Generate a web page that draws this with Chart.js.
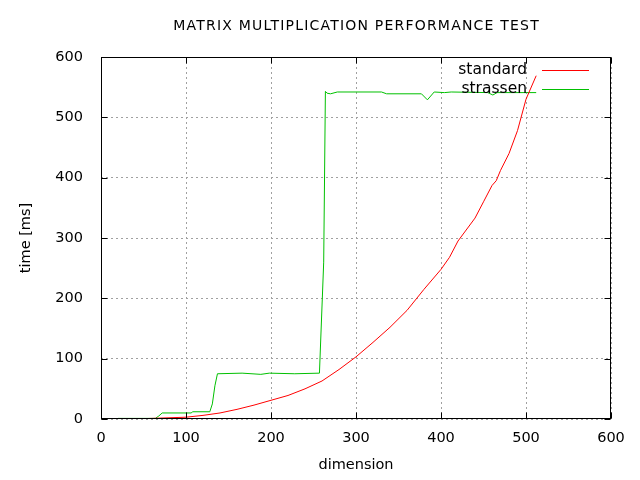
<!DOCTYPE html>
<html>
<head>
<meta charset="utf-8">
<script src="https://cdn.jsdelivr.net/npm/chart.js@4"></script>
<style>
  html, body { margin: 0; padding: 0; background: #fff; }
</style>
</head>
<body>
<canvas id="chart" width="640" height="480"></canvas>
<script>
// values
const stdDims = [20, 40, 60, 80, 100, 120, 140, 160, 180, 200, 220, 240, 260, 280, 300, 320, 340, 360, 380, 400, 410, 420, 440, 450, 460, 465, 470, 480, 490, 500, 512];
const stdTimes = [0, 0.3, 1, 2, 3, 6, 10, 16, 23, 31, 39, 50, 63, 82, 103, 127, 152, 180, 215, 248, 268, 295, 333, 360, 387, 395, 412, 440, 478, 530, 569];

const strDims = [20, 64, 68, 72, 106, 108, 128, 131, 134, 137, 166, 188, 198, 228, 257, 262, 264, 266, 270, 278, 330, 336, 377, 384, 392, 404, 412, 455, 461, 466, 512];
const strTimes = [1, 1, 5, 10, 10, 12, 12, 25, 55, 75, 76, 74, 76, 75, 76, 260, 543, 540, 539, 542, 542, 539, 539, 529, 542, 541, 542, 541, 537, 541, 541];

const xTicks = [0, 100, 200, 300, 400, 500, 600];
const yTicks = [0, 100, 200, 300, 400, 500, 600];

const titleText = 'MATRIX MULTIPLICATION PERFORMANCE TEST';
const FONT = "'DejaVu Sans', sans-serif";

function toPoints(xs, ys) {
    return xs.map((x, i) => ({ x: x, y: ys[i] }));
}

// frame, inward ticks, title and legend the gnuplot way
const gnuplotLook = {
    id: 'gnuplotLook',
    afterDraw(chart) {
        const { ctx, chartArea: a, scales } = chart;
        const L = Math.round(a.left) + 0.5, R = Math.round(a.right) - 0.5;
        const T = Math.round(a.top) + 0.5, B = Math.round(a.bottom) - 0.5;
        ctx.save();
        ctx.strokeStyle = '#000';
        ctx.lineWidth = 1;
        ctx.strokeRect(L, T, R - L, B - T);

        ctx.beginPath();
        xTicks.forEach(v => {
            const px = Math.round(scales.x.getPixelForValue(v)) + 0.5;
            ctx.moveTo(px, B); ctx.lineTo(px, B - 6);
            ctx.moveTo(px, T); ctx.lineTo(px, T + 6);
        });
        yTicks.forEach(v => {
            const py = Math.round(scales.y.getPixelForValue(v)) + 0.5;
            ctx.moveTo(L, py); ctx.lineTo(L + 6, py);
            ctx.moveTo(R, py); ctx.lineTo(R - 6, py);
        });
        ctx.stroke();

        ctx.fillStyle = '#000';
        ctx.font = '14px ' + FONT;
        ctx.letterSpacing = '1.2px';
        ctx.textAlign = 'center';
        ctx.textBaseline = 'middle';
        ctx.fillText(titleText, (a.left + a.right) / 2 + 0.6, 26);
        ctx.letterSpacing = '0px';

        ctx.font = '15.5px ' + FONT;
        ctx.textAlign = 'right';
        chart.data.datasets.forEach((ds, i) => {
            const y = 70 + i * 19;
            ctx.fillText(ds.label, 527, y);
            ctx.strokeStyle = ds.borderColor;
            ctx.beginPath();
            ctx.moveTo(542, y + 0.5);
            ctx.lineTo(589, y + 0.5);
            ctx.stroke();
        });
        ctx.restore();
    }
};

new Chart(document.getElementById('chart'), {
    type: 'line',
    data: {
        datasets: [
            {
                label: 'standard',
                data: toPoints(stdDims, stdTimes),
                borderColor: '#ff0000',
                borderWidth: 1,
                pointRadius: 0,
                tension: 0,
                fill: false
            },
            {
                label: 'strassen',
                data: toPoints(strDims, strTimes),
                borderColor: '#00c000',
                borderWidth: 1,
                pointRadius: 0,
                tension: 0,
                fill: false
            }
        ]
    },
    plugins: [gnuplotLook],
    options: {
        responsive: false,
        animation: false,
        layout: { padding: { top: 57, right: 29, left: 0, bottom: 0 } },
        plugins: {
            legend: { display: false },
            tooltip: { enabled: false }
        },
        scales: {
            x: {
                type: 'linear',
                min: 0,
                max: 600,
                afterFit: s => { s.height = 61; },
                afterBuildTicks: s => { s.ticks = xTicks.map(v => ({ value: v })); },
                ticks: { color: '#000', padding: 11, font: { family: FONT, size: 14.5 } },
                grid: { color: '#a0a0a0', drawTicks: false },
                border: { display: false, dash: [2, 3] },
                title: {
                    display: true,
                    text: 'dimension',
                    color: '#000',
                    font: { family: FONT, size: 14.5 },
                    padding: { top: 0, bottom: 6 }
                }
            },
            y: {
                type: 'linear',
                min: 0,
                max: 600,
                afterFit: s => { s.width = 101; },
                afterBuildTicks: s => { s.ticks = yTicks.map(v => ({ value: v })); },
                ticks: { color: '#000', padding: 18, font: { family: FONT, size: 14.5 } },
                grid: { color: '#a0a0a0', drawTicks: false },
                border: { display: false, dash: [2, 3] },
                title: {
                    display: true,
                    text: 'time [ms]',
                    color: '#000',
                    font: { family: FONT, size: 14.5 },
                    padding: { top: 18, bottom: 0 }
                }
            }
        }
    }
});
</script>
</body>
</html>
